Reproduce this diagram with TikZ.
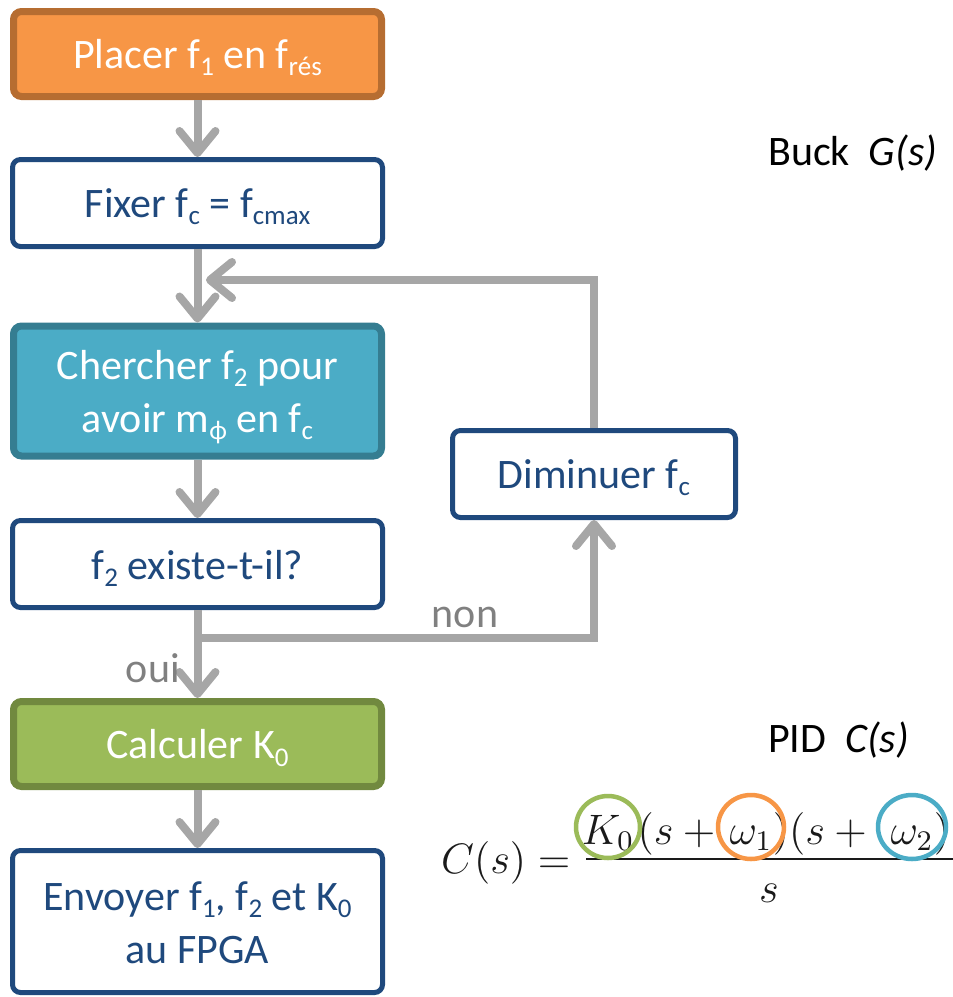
\documentclass[tikz,border=0pt]{standalone}
\usepackage[no-math]{fontspec}
\setmainfont{Carlito}
\usetikzlibrary{arrows.meta}
\definecolor{navy}{HTML}{1F497D}
\definecolor{orf}{HTML}{F79646}
\definecolor{ord}{HTML}{B66D31}
\definecolor{tlf}{HTML}{4BACC6}
\definecolor{tld}{HTML}{357D91}
\definecolor{grf}{HTML}{9BBB59}
\definecolor{grd}{HTML}{71893F}
\definecolor{arrg}{HTML}{A6A6A6}
\definecolor{labg}{HTML}{808080}
\definecolor{mathk}{HTML}{1A1A1A}
\newcommand{\lowsub}[1]{\raisebox{-7pt}{\fontsize{27}{27}\selectfont #1}}
\newcommand{\boxfont}{\fontsize{42}{53}\selectfont}
\newcommand{\dn}[2]{\raisebox{-#1}[\height][\depth]{#2}}
\newcommand{\twol}[2]{\begin{tabular}{@{}c@{}}#1\\#2\end{tabular}}
\newcommand{\bm}[1]{\scalebox{3.55}{\fontsize{12}{14}\selectfont$#1$}}
\tikzset{
  box/.style={rectangle, rounded corners=8pt, line width=5pt, minimum width=370pt,
    minimum height=87pt, inner sep=0pt, align=center, font=\boxfont},
  wbox/.style={box, draw=navy, fill=white, text=navy},
  cbox/.style={box, line width=7pt, minimum width=368pt, minimum height=85pt, text=white},
  obox/.style={cbox, draw=ord, fill=orf},
  tbox/.style={cbox, draw=tld, fill=tlf},
  gbox/.style={cbox, draw=grd, fill=grf},
  arr/.style={draw=arrg, line width=8pt, -{Straight Barb[length=22pt, width=36pt, round]}},
  lab/.style={text=labg, font=\boxfont, inner sep=0pt},
  side/.style={text=black, font=\boxfont, inner sep=0pt, anchor=base west},
  fnode/.style={inner sep=0pt, text=mathk, text height=34pt, text depth=0pt, anchor=base west},
  ring/.style={line width=4.5pt},
}
\begin{document}
\begin{tikzpicture}[x=1pt, y=-1pt]
\useasboundingbox (0,0) rectangle (953,997);
% flow boxes
\node[obox] (b1) at (197.5,54) {\dn{4pt}{Placer f\lowsub{1} en f\lowsub{rés}}};
\node[wbox] (b2) at (197.5,203) {\dn{4pt}{Fixer f\lowsub{c} = f\lowsub{cmax}}};
\node[tbox, minimum height=130pt] (b3) at (197.5,391) {\dn{4pt}{\twol{Chercher f\lowsub{2} pour}{avoir m\lowsub{ϕ} en f\lowsub{c}}}};
\node[wbox] (b4) at (197.5,564) {\dn{4pt}{f\lowsub{2} existe-t-il?}};
\node[gbox] (b5) at (197.5,744) {\dn{4pt}{Calculer K\lowsub{0}}};
\node[wbox, minimum height=142pt] (b6) at (197.5,921.5) {\dn{5pt}{\twol{Envoyer f\lowsub{1}, f\lowsub{2} et K\lowsub{0}}{au FPGA}}};
\node[wbox, minimum width=283pt] (dim) at (594,474) {\dn{4pt}{Diminuer f\lowsub{c}}};
% connectors
\coordinate (loopend) at (206,280);
\coordinate (split) at (197.5,638);
\draw[arr] (b1) -- (b2);
\draw[arr] (b2) -- (b3);
\draw[arr] (b3) -- (b4);
\draw[arr] (b4) -- (b5);
\draw[arr] (b5) -- (b6);
\draw[arr] (dim.north) |- (loopend);
\draw[arr] (split) -| (dim.south);
\node[lab] (non) at (465,617) {non};
\node[lab, anchor=east] (oui) at (180,668) {oui};
% side labels
\node[side] (buck) at (768,165) {Buck\ \ \textit{G(s)}};
\node[side] (pid) at (768,752) {PID\ \ \textit{C(s)}};
% formula
\node[fnode] (cs) at (441,873) {\bm{C(s) =}};
\node[fnode, anchor=base] (k0) at (608,844) {\bm{K_0}};
\node[fnode] (pa) at ([xshift=3pt]k0.base east) {\bm{(s+{}}};
\node[fnode, anchor=base] (w1) at (751,844) {\bm{\omega_1}};
\node[fnode] (pb) at (w1.base east) {\bm{)(s+{}}};
\node[fnode, anchor=base] (w2) at (912,844) {\bm{\omega_2}};
\node[fnode] (pc) at (w2.base east) {\bm{)}};
\node[fnode, anchor=base] (den) at (769,902) {\bm{s}};
\coordinate (barL) at (586,859);
\coordinate (barR) at (960,859);
\draw[line width=2.5pt, mathk] (barL) -- (barR);
\draw[ring, draw=grf] (k0.center) ellipse [x radius=32pt, y radius=31pt];
\draw[ring, draw=orf] (w1.center) ellipse [x radius=33pt, y radius=32pt];
\draw[ring, draw=tlf] (w2.center) ellipse [x radius=34pt, y radius=32pt];
\end{tikzpicture}
\end{document}
